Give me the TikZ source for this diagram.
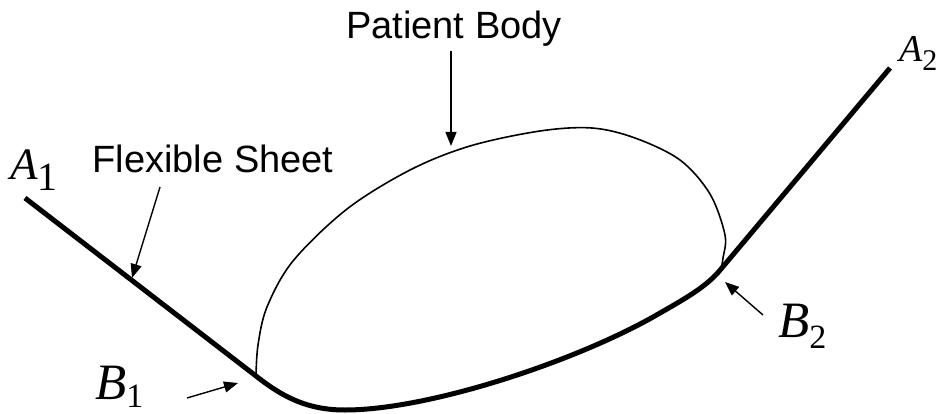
\documentclass[tikz,border=0pt]{standalone}
\usepackage{fontspec}
\setmainfont{Liberation Serif}
\setsansfont{Liberation Sans}
\usetikzlibrary{arrows.meta}

% italic point name with a lowered index
\newcommand{\pointname}[5]{{\fontsize{#3}{#3}\selectfont\itshape #1}\raisebox{-#5}{\fontsize{#4}{#4}\selectfont #2}}

\begin{document}
\begin{tikzpicture}[x=1pt, y=-1pt,
    caption/.style={font=\sffamily\fontsize{38}{42}\selectfont, anchor=base, inner sep=4pt},
    point/.style={anchor=base west, inner sep=0pt},
    sheet/.style={line width=5pt, line join=round},
    body/.style={line width=1.6pt},
    pointer/.style={line width=1.4pt, -{Triangle[length=14pt, width=11pt]}}]
    \useasboundingbox (0,0) rectangle (939,414);

    % ends and contact points of the sheet
    \coordinate (A1) at (25,198);
    \coordinate (B1) at (256,376);
    \coordinate (B2) at (721,269);
    \coordinate (A2) at (890,68);

    % the sheet
    \draw[sheet] (A1) -- (B1)
        .. controls (285,399) and (310,410) .. (345,410)
        .. controls (430,410) and (580,360) .. (660,313)
        .. controls (690,296) and (708,285) .. (B2) -- (A2);

    % the body resting on it
    \draw[body] plot[smooth, tension=0.55] coordinates {
        (B1) (258,345) (267,307) (293,261) (347,209) (410,170) (470,146)
        (540,131) (592,128) (635,138) (680,160) (710,194) (725,235)
        (723,258) (B2)};

    \node[caption] (Patient Body)   at (454,39)  {Patient Body};
    \node[caption] (Flexible Sheet) at (213,173) {Flexible Sheet};

    \node[point] (A1 label) at (10,180)  {\pointname{A}{1}{45}{40}{11pt}};
    \node[point] (A2 label) at (899,62)  {\pointname{A}{2}{38}{30}{9pt}};
    \node[point] (B1 label) at (95,399)  {\pointname{B}{1}{51}{34}{8pt}};
    \node[point] (B2 label) at (778,337) {\pointname{B}{2}{51}{34}{11pt}};

    % pointers
    \coordinate (body top)   at (451,146);
    \coordinate (sheet tail) at (160,187);
    \coordinate (sheet mid)  at (132,278);
    \coordinate (B1 tail)    at (187,398);
    \coordinate (B1 tip)     at (238,383);
    \coordinate (B2 tail)    at (763,315);
    \coordinate (B2 tip)     at (725,282);

    \draw[pointer] (Patient Body.south -| body top) -- (body top);
    \draw[pointer] (sheet tail) -- (sheet mid);
    \draw[pointer] (B1 tail) -- (B1 tip);
    \draw[pointer] (B2 tail) -- (B2 tip);
\end{tikzpicture}
\end{document}
